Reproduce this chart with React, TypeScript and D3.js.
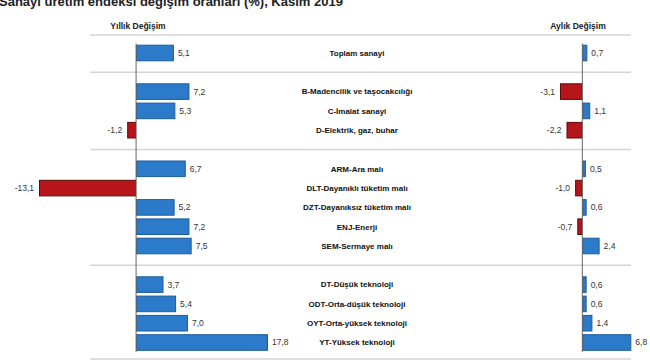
import React from "react";
import * as d3 from "d3";

const title = "Sanayi üretim endeksi  değişim oranları (%), Kasım 2019";
const leftHeader = "Yıllık Değişim";
const rightHeader = "Aylık Değişim";

const categories = [
  "Toplam sanayi",
  "B-Madencilik ve taşocakcılığı",
  "C-İmalat sanayi",
  "D-Elektrik, gaz, buhar",
  "ARM-Ara malı",
  "DLT-Dayanıklı tüketim malı",
  "DZT-Dayanıksız tüketim malı",
  "ENJ-Enerji",
  "SEM-Sermaye malı",
  "DT-Düşük teknoloji",
  "ODT-Orta-düşük teknoloji",
  "OYT-Orta-yüksek teknoloji",
  "YT-Yüksek teknoloji",
];
const yearly = [5.1, 7.2, 5.3, -1.2, 6.7, -13.1, 5.2, 7.2, 7.5, 3.7, 5.4, 7.0, 17.8];
const monthly = [0.7, -3.1, 1.1, -2.2, 0.5, -1.0, 0.6, -0.7, 2.4, 0.6, 0.6, 1.4, 6.8];
// row slot of each category (empty slots separate the groups)
const slots = [0, 2, 3, 4, 6, 7, 8, 9, 10, 12, 13, 14, 15];
const separatorSlots = [-0.93, 1, 5, 11, 15.85];

const W = 650;
const H = 360;
const BLUE = "#2b7bca";
const BLUE_STROKE = "#1d5c9c";
const RED = "#b5151b";
const RED_STROKE = "#5e0a0a";

const fmt = (v: number) => v.toFixed(1).replace(".", ",");

export default function App() {
  const y = d3
    .scaleBand<number>()
    .domain(d3.range(16))
    .range([43.35, 352.15])
    .paddingInner(0.14)
    .paddingOuter(0.07);
  const center = (s: number) => 53 + y.step() * s;

  const xl = d3.scaleLinear().domain([-13.1, 17.8]).range([39, 268]);
  const xr = d3.scaleLinear().domain([-3.1, 6.8]).range([560, 631.3]);

  const catX = 357;

  const renderBars = (vals: number[], x: d3.ScaleLinear<number, number>, key: string) =>
    vals.map((v, i) => {
      const yy = y(slots[i])!;
      const x0 = x(0);
      const x1 = x(v);
      const pos = v >= 0;
      return (
        <g key={key + i}>
          <rect
            x={Math.min(x0, x1) + 0.5}
            y={yy + 0.5}
            width={Math.abs(x1 - x0) - 1}
            height={y.bandwidth() - 1}
            fill={pos ? BLUE : RED}
            stroke={pos ? BLUE_STROKE : RED_STROKE}
            strokeWidth={1}
          />
          <text
            x={pos ? x1 + 4 : x1 - 5}
            y={yy + y.bandwidth() / 2}
            dy="0.35em"
            textAnchor={pos ? "start" : "end"}
            fontSize={8.5}
            fill="#333"
            fontFamily="'Liberation Sans', Arial, sans-serif"
          >
            {fmt(v)}
          </text>
        </g>
      );
    });

  return (
    <svg
      width={W}
      height={H}
      style={{ position: "absolute", left: 0, top: 0, background: "#fff" }}
    >
      <text
        x={-1}
        y={6}
        fontSize={13}
        fontWeight="bold"
        fill="#222"
        fontFamily="'Liberation Sans', Arial, sans-serif"
      >
        {title}
      </text>
      <text
        x={138}
        y={26}
        dy="0.35em"
        textAnchor="middle"
        fontSize={8.5}
        fontWeight="bold"
        fill="#222"
        fontFamily="'Liberation Sans', Arial, sans-serif"
      >
        {leftHeader}
      </text>
      <text
        x={578}
        y={26}
        dy="0.35em"
        textAnchor="middle"
        fontSize={8.5}
        fontWeight="bold"
        fill="#222"
        fontFamily="'Liberation Sans', Arial, sans-serif"
      >
        {rightHeader}
      </text>
      {separatorSlots.map((s, i) => (
        <line
          key={"sep" + i}
          x1={90}
          x2={631}
          y1={center(s)}
          y2={center(s)}
          stroke="#d4d4d4"
          strokeWidth={1.5}
        />
      ))}
      {renderBars(yearly, xl, "l")}
      {renderBars(monthly, xr, "r")}
      <line x1={xl(0)} x2={xl(0)} y1={43.5} y2={352} stroke="#666" strokeWidth={1} />
      <line x1={xr(0)} x2={xr(0)} y1={43.5} y2={352} stroke="#666" strokeWidth={1} />
      {categories.map((c, i) => (
        <text
          key={"c" + i}
          x={catX}
          y={center(slots[i])}
          dy="0.35em"
          textAnchor="middle"
          fontSize={8}
          fontWeight="bold"
          fill="#111"
          fontFamily="'Liberation Sans', Arial, sans-serif"
        >
          {c}
        </text>
      ))}
    </svg>
  );
}
